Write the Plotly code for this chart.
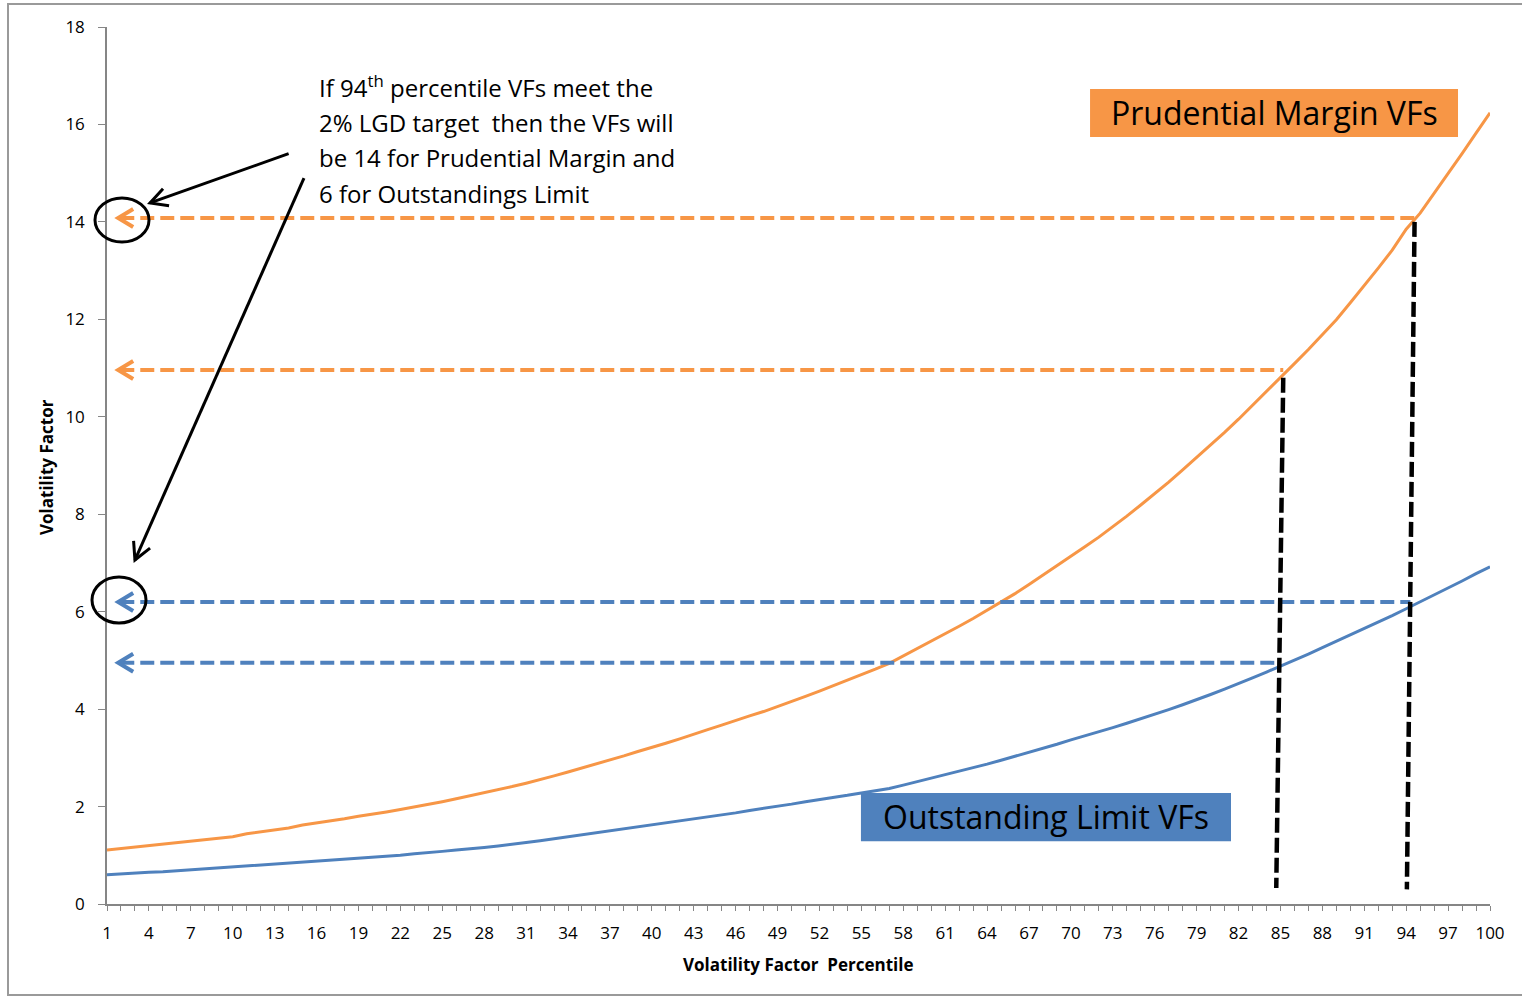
import plotly.graph_objects as go

# Volatility factor by percentile (1..100)
percentiles = list(range(1, 101))

prudential_margin = [
    1.11, 1.14, 1.17, 1.20, 1.23, 1.26, 1.29, 1.32, 1.35, 1.38,
    1.44, 1.48, 1.52, 1.56, 1.62, 1.66, 1.71, 1.75, 1.80, 1.84,
    1.89, 1.94, 1.99, 2.05, 2.10, 2.16, 2.22, 2.28, 2.35, 2.41,
    2.48, 2.55, 2.63, 2.71, 2.79, 2.87, 2.96, 3.04, 3.13, 3.21,
    3.30, 3.39, 3.49, 3.58, 3.67, 3.77, 3.86, 3.95, 4.05, 4.15,
    4.26, 4.37, 4.48, 4.59, 4.71, 4.82, 4.94, 5.09, 5.25, 5.39,
    5.54, 5.70, 5.86, 6.03, 6.20, 6.37, 6.56, 6.75, 6.94, 7.13,
    7.33, 7.53, 7.74, 7.96, 8.19, 8.42, 8.66, 8.91, 9.16, 9.42,
    9.68, 9.95, 10.23, 10.51, 10.80, 11.09, 11.38, 11.68, 11.99, 12.34,
    12.69, 13.05, 13.42, 13.85, 14.18, 14.58, 14.99, 15.40, 15.82, 16.24,
]

outstanding_limit = [
    0.60, 0.62, 0.63, 0.65, 0.66, 0.68, 0.70, 0.72, 0.74, 0.76,
    0.78, 0.79, 0.81, 0.83, 0.85, 0.87, 0.89, 0.91, 0.93, 0.95,
    0.97, 1.00, 1.03, 1.05, 1.08, 1.11, 1.13, 1.16, 1.19, 1.22,
    1.26, 1.30, 1.34, 1.38, 1.42, 1.46, 1.50, 1.55, 1.59, 1.63,
    1.67, 1.71, 1.75, 1.79, 1.83, 1.87, 1.92, 1.96, 2.01, 2.05,
    2.10, 2.14, 2.19, 2.23, 2.28, 2.32, 2.37, 2.44, 2.51, 2.58,
    2.65, 2.72, 2.79, 2.87, 2.95, 3.03, 3.12, 3.20, 3.28, 3.37,
    3.45, 3.53, 3.62, 3.71, 3.80, 3.89, 3.99, 4.09, 4.19, 4.30,
    4.41, 4.52, 4.64, 4.76, 4.88, 5.00, 5.13, 5.26, 5.39, 5.52,
    5.65, 5.79, 5.92, 6.06, 6.20, 6.34, 6.49, 6.63, 6.78, 6.92,
]

y_ticks = [0, 2, 4, 6, 8, 10, 12, 14, 16, 18]

# Reference levels read across to the y axis
pm_levels = [14.08, 10.96]           # Prudential Margin at the 94th / 85th percentile
ol_levels = [6.20, 4.95]             # Outstanding Limit at the 94th / 85th percentile
pm_level_ends = [94.6, 85.2]
ol_level_ends = [94.3, 84.9]
arrow_tip_x = 1.8

ORANGE = "#F79646"
BLUE = "#4F81BD"
AXIS_GREY = "#868686"
FONT = "Open Sans"

W, H = 1522, 997
ML, MR, MT, MB = 107, 32, 27, 93
X_RANGE = (1, 100)
Y_RANGE = (0, 18)
PX_PER_X = (W - ML - MR) / (X_RANGE[1] - X_RANGE[0])
PX_PER_Y = (H - MT - MB) / (Y_RANGE[1] - Y_RANGE[0])


def chevron(x_tip, y_tip, dir_px, arm_px, spread_px):
    """Open arrowhead path; dir_px is the unit direction of travel in pixel space (x right, y down)."""
    dx, dy = dir_px
    nx, ny = -dy, dx
    pts = []
    for s in (1, -1):
        bx = -dx * arm_px + s * nx * spread_px
        by = -dy * arm_px + s * ny * spread_px
        pts.append((x_tip + bx / PX_PER_X, y_tip - by / PX_PER_Y))
    return (f"M {pts[0][0]},{pts[0][1]} L {x_tip},{y_tip} L {pts[1][0]},{pts[1][1]}")


def paper_x(px):
    return (px - ML) / (W - ML - MR)


def paper_y(py):
    return (H - MB - py) / (H - MT - MB)


fig = go.Figure()

fig.add_trace(go.Scatter(x=percentiles, y=prudential_margin, mode="lines",
                         line=dict(color=ORANGE, width=3), name="Prudential Margin VFs"))
fig.add_trace(go.Scatter(x=percentiles, y=outstanding_limit, mode="lines",
                         line=dict(color=BLUE, width=3), name="Outstanding Limit VFs"))

shapes = []

# Horizontal dashed read-across lines with open arrowheads at the axis
for levels, ends, colour in ((pm_levels, pm_level_ends, ORANGE), (ol_levels, ol_level_ends, BLUE)):
    for lvl, end in zip(levels, ends):
        shapes.append(dict(type="line", xref="x", yref="y", x0=arrow_tip_x + 0.15, x1=end, y0=lvl, y1=lvl,
                           line=dict(color=colour, width=4, dash="14px,6px")))
        shapes.append(dict(type="path", xref="x", yref="y",
                           path=chevron(arrow_tip_x, lvl, (-1, 0), 15, 9),
                           line=dict(color=colour, width=4)))

# Vertical black dashed drops at the 85th and 94th percentiles
for (xt, yt, xb, yb) in ((85.2, 10.8, 84.7, 0.33), (94.6, 14.0, 94.05, 0.3)):
    shapes.append(dict(type="line", xref="x", yref="y", x0=xt, y0=yt, x1=xb, y1=yb,
                       line=dict(color="black", width=4.5, dash="15px,5px")))

# Circles highlighting the read-off values on the y axis
for (cx, cy, rx, ry) in ((122, 220, 27, 22), (119, 600, 27, 23)):
    shapes.append(dict(type="circle", xref="paper", yref="paper",
                       x0=paper_x(cx - rx), x1=paper_x(cx + rx),
                       y0=paper_y(cy + ry), y1=paper_y(cy - ry),
                       line=dict(color="black", width=3)))

# Black pointer arrows from the note to the circled values
pointers = [((14.0, 15.4), (4.08, 14.39)), ((15.1, 14.9), (3.0, 7.06))]
for (x_tail, y_tail), (x_head, y_head) in pointers:
    shapes.append(dict(type="line", xref="x", yref="y", x0=x_tail, y0=y_tail, x1=x_head, y1=y_head,
                       line=dict(color="black", width=3)))
    dpx = (x_head - x_tail) * PX_PER_X
    dpy = -(y_head - y_tail) * PX_PER_Y
    norm = (dpx ** 2 + dpy ** 2) ** 0.5
    shapes.append(dict(type="path", xref="x", yref="y",
                       path=chevron(x_head, y_head, (dpx / norm, dpy / norm), 17, 9),
                       line=dict(color="black", width=3)))

# Series label boxes
shapes.append(dict(type="rect", xref="x", yref="y", x0=71.37, x1=97.71, y0=15.74, y1=16.73,
                   fillcolor=ORANGE, line=dict(width=0), layer="above"))
shapes.append(dict(type="rect", xref="x", yref="y", x0=54.97, x1=81.46, y0=1.29, y1=2.28,
                   fillcolor=BLUE, line=dict(width=0), layer="above"))

# Chart area border
shapes.append(dict(type="rect", xref="paper", yref="paper",
                   x0=paper_x(8), x1=paper_x(1540), y0=paper_y(995), y1=paper_y(4),
                   line=dict(color="#9A9A9A", width=2)))

annotations = []

note_lines = [
    "If 94<sup>th</sup> percentile VFs meet the",
    "2% LGD target  then the VFs will",
    "be 14 for Prudential Margin and",
    "6 for Outstandings Limit",
]
note_y = [16.77, 16.03, 15.33, 14.59]
for txt, yy in zip(note_lines, note_y):
    annotations.append(dict(x=16.0, y=yy, xref="x", yref="y", text=txt, showarrow=False,
                            xanchor="left", yanchor="middle",
                            font=dict(family=FONT, size=24, color="black")))

annotations.append(dict(x=84.54, y=16.24, xref="x", yref="y", text="Prudential Margin VFs",
                        showarrow=False, xanchor="center", yanchor="middle",
                        font=dict(family=FONT, size=32, color="black")))
annotations.append(dict(x=68.2, y=1.79, xref="x", yref="y", text="Outstanding Limit VFs",
                        showarrow=False, xanchor="center", yanchor="middle",
                        font=dict(family=FONT, size=32, color="black")))

# Axis titles
annotations.append(dict(x=paper_x(798), y=paper_y(965), xref="paper", yref="paper",
                        text="<b>Volatility Factor  Percentile</b>", showarrow=False,
                        xanchor="center", yanchor="middle",
                        font=dict(family=FONT, size=17, color="black")))
annotations.append(dict(x=paper_x(47), y=paper_y(467), xref="paper", yref="paper",
                        text="<b>Volatility Factor</b>", showarrow=False, textangle=-90,
                        xanchor="center", yanchor="middle",
                        font=dict(family=FONT, size=17, color="black")))

fig.update_layout(
    width=W, height=H,
    margin=dict(l=ML, r=MR, t=MT, b=MB, pad=0),
    paper_bgcolor="white", plot_bgcolor="white",
    showlegend=False,
    shapes=shapes,
    annotations=annotations,
    font=dict(family=FONT, size=17, color="black"),
    xaxis=dict(range=list(X_RANGE), tickmode="linear", tick0=1, dtick=3,
               ticks="outside", ticklen=5, tickcolor=AXIS_GREY, tickwidth=1,
               minor=dict(tickmode="linear", tick0=1, dtick=1, ticks="outside", ticklen=5,
                          tickcolor=AXIS_GREY, tickwidth=1, showgrid=False),
               showline=True, linecolor=AXIS_GREY, linewidth=1.5, showgrid=False, zeroline=False,
               tickfont=dict(family=FONT, size=17, color="black"), tickangle=0,
               ticklabelstandoff=8),
    yaxis=dict(range=list(Y_RANGE), tickmode="array", tickvals=y_ticks,
               ticks="outside", ticklen=7, tickcolor=AXIS_GREY, tickwidth=1,
               showline=True, linecolor=AXIS_GREY, linewidth=1.5, showgrid=False, zeroline=False,
               tickfont=dict(family=FONT, size=17, color="black"), ticklabelstandoff=10),
)

fig.write_html("out.html")
